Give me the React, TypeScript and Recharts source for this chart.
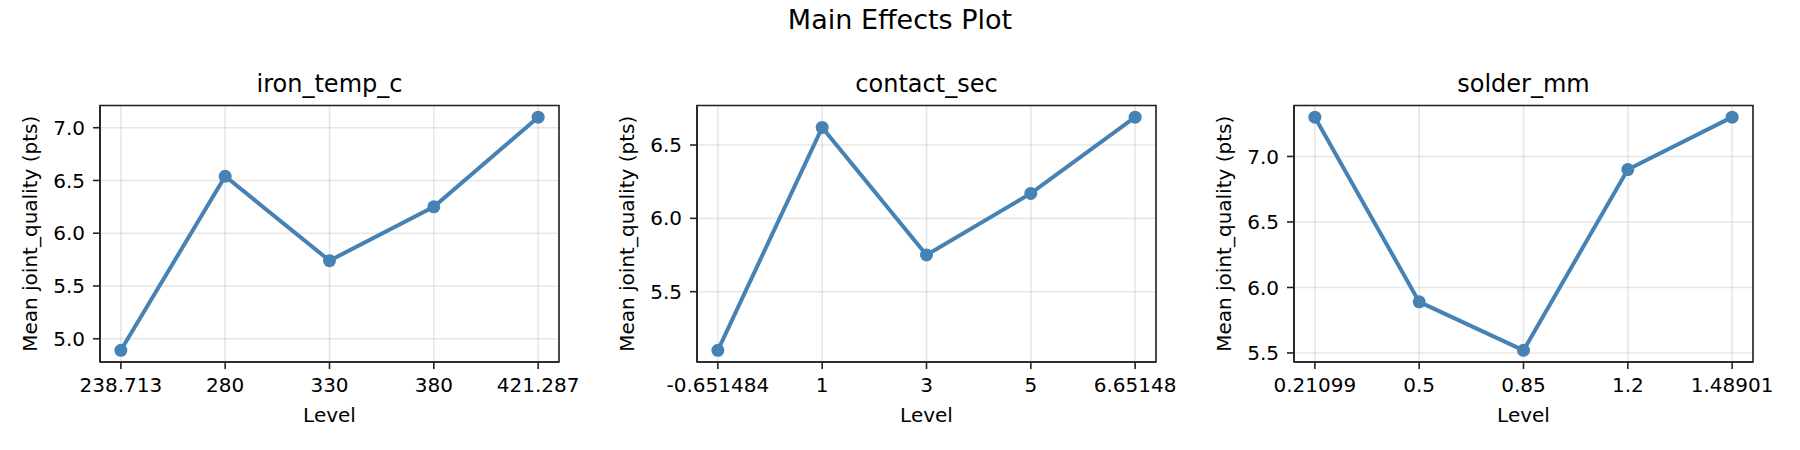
import React from 'react'
import { LineChart, Line, XAxis, YAxis, CartesianGrid, ReferenceArea } from 'recharts'

// levels (tick labels) and mean response per factor
const ironLevels = ['238.713', '280', '330', '380', '421.287']
const ironMeans = [4.89, 6.54, 5.74, 6.25, 7.1]
const ironTicks = [5.0, 5.5, 6.0, 6.5, 7.0]

const contactLevels = ['-0.651484', '1', '3', '5', '6.65148']
const contactMeans = [5.1, 6.62, 5.75, 6.17, 6.69]
const contactTicks = [5.5, 6.0, 6.5]

const solderLevels = ['0.21099', '0.5', '0.85', '1.2', '1.48901']
const solderMeans = [7.3, 5.89, 5.52, 6.9, 7.3]
const solderTicks = [5.5, 6.0, 6.5, 7.0]

const factors = [
  { name: 'iron_temp_c', levels: ironLevels, means: ironMeans, ticks: ironTicks },
  { name: 'contact_sec', levels: contactLevels, means: contactMeans, ticks: contactTicks },
  { name: 'solder_mm', levels: solderLevels, means: solderMeans, ticks: solderTicks },
]

const font = 'DejaVu Sans, sans-serif'
const lineColor = '#4682b4'
const spine = '#222'
const tickStyle = { fontSize: 20, fill: '#000', fontFamily: font }
const panelW = 597
const xDomain: [number, number] = [-0.2, 4.2]

function Panel({ levels, means, ticks }: { levels: string[]; means: number[]; ticks: number[] }) {
  const data = means.map((m, i) => ({ x: i, y: m }))
  const lo = Math.min(...means)
  const hi = Math.max(...means)
  const pad = (hi - lo) * 0.05
  const yDomain: [number, number] = [lo - pad, hi + pad]
  return (
    <LineChart width={panelW} height={450} data={data} margin={{ top: 105.5, right: 38, bottom: 28, left: 0 }}>
      <CartesianGrid stroke="#b0b0b0" strokeOpacity={0.3} strokeWidth={1.6} />
      <XAxis
        dataKey="x"
        type="number"
        domain={xDomain}
        ticks={[0, 1, 2, 3, 4]}
        tickFormatter={(v: number) => levels[v]}
        allowDataOverflow
        height={60}
        tick={tickStyle}
        tickSize={7}
        tickMargin={9}
        interval={0}
        stroke={spine}
        strokeWidth={1.6}
        label={{ value: 'Level', position: 'insideBottom', offset: 0, fontSize: 20, fill: '#000', fontFamily: font }}
      />
      <YAxis
        type="number"
        domain={yDomain}
        ticks={ticks}
        tickFormatter={(v: number) => v.toFixed(1)}
        allowDataOverflow
        width={100}
        tick={tickStyle}
        tickSize={7}
        tickMargin={8}
        interval={0}
        stroke={spine}
        strokeWidth={1.6}
        label={{
          value: 'Mean joint_quality (pts)',
          angle: -90,
          position: 'insideLeft',
          offset: 30,
          fontSize: 20,
          fill: '#000',
          fontFamily: font,
          style: { textAnchor: 'middle' },
        }}
      />
      <ReferenceArea
        x1={xDomain[0]}
        x2={xDomain[1]}
        y1={yDomain[0]}
        y2={yDomain[1]}
        fill="none"
        stroke={spine}
        strokeWidth={1.6}
        fillOpacity={0}
      />
      <Line
        dataKey="y"
        stroke={lineColor}
        strokeWidth={4}
        dot={{ r: 6.5, fill: lineColor, stroke: lineColor, strokeWidth: 0 }}
        activeDot={false}
        isAnimationActive={false}
      />
    </LineChart>
  )
}

export default function App() {
  return (
    <div style={{ position: 'absolute', left: 0, top: 0, width: 1800, height: 450, background: '#fff', fontFamily: font }}>
      {factors.map((f, i) => (
        <div key={f.name} style={{ position: 'absolute', left: i * panelW, top: 0 }}>
          <Panel levels={f.levels} means={f.means} ticks={f.ticks} />
        </div>
      ))}
      <svg width={1800} height={450} style={{ position: 'absolute', left: 0, top: 0, pointerEvents: 'none' }}>
        <text x={900} y={29} textAnchor="middle" fontSize={27} fontFamily={font} fill="#000">
          Main Effects Plot
        </text>
        {factors.map((f, i) => (
          <text key={f.name} x={i * panelW + 100 + 229.5} y={92} textAnchor="middle" fontSize={24} fontFamily={font} fill="#000">
            {f.name}
          </text>
        ))}
      </svg>
    </div>
  )
}
